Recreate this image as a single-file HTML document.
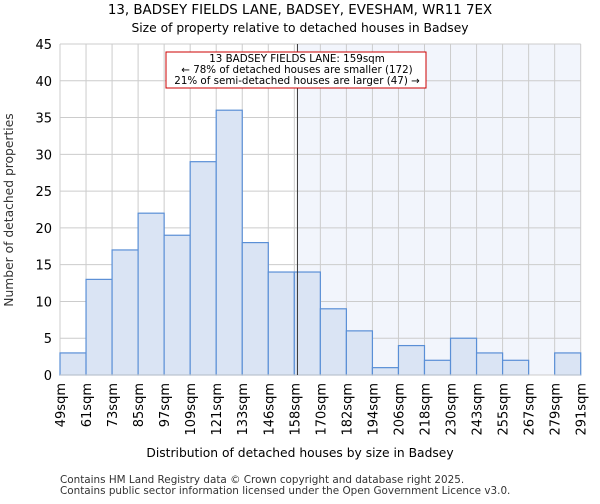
<!DOCTYPE html>
<html><head><meta charset="utf-8"><style>
body{margin:0;background:#fff;font-family:"DejaVu Sans","Liberation Sans",sans-serif;}
</style></head><body>
<svg width="600" height="500" xmlns="http://www.w3.org/2000/svg" style="font-family:'DejaVu Sans','Liberation Sans',sans-serif">
<text x="300" y="14" text-anchor="middle" font-size="13.4">13, BADSEY FIELDS LANE, BADSEY, EVESHAM, WR11 7EX</text>
<text x="300" y="32" text-anchor="middle" font-size="12.3">Size of property relative to detached houses in Badsey</text>
<g id="plot"></g>
<text x="300" y="457" text-anchor="middle" font-size="12.3">Distribution of detached houses by size in Badsey</text>
<text transform="translate(13,210) rotate(-90)" text-anchor="middle" font-size="12.3" fill="#333">Number of detached properties</text>
<text x="60" y="483" font-size="10.4" fill="#333">Contains HM Land Registry data © Crown copyright and database right 2025.</text>
<text x="60" y="494" font-size="10.4" fill="#333">Contains public sector information licensed under the Open Government Licence v3.0.</text>
</svg>
<script>
const categories=["49sqm","61sqm","73sqm","85sqm","97sqm","109sqm","121sqm","133sqm","146sqm","158sqm","170sqm","182sqm","194sqm","206sqm","218sqm","230sqm","243sqm","255sqm","267sqm","279sqm","291sqm"];
const counts=[3,13,17,22,19,29,36,18,14,14,9,6,1,4,2,5,3,2,0,3];
const yTicks=[0,5,10,15,20,25,30,35,40,45];
const markerBin=9.12;
const NS="http://www.w3.org/2000/svg";
const L=60,R=580.7,T=44,B=375,yMax=45;
const bw=(R-L)/counts.length;
const xs=i=>L+i*bw;
const ys=v=>B-(v/yMax)*(B-T);
const g=document.getElementById('plot');
function mk(t,a){const e=document.createElementNS(NS,t);for(const k in a)e.setAttribute(k,a[k]);g.appendChild(e);return e;}
const mx=xs(markerBin);
let e=mk('rect',{x:mx,y:T,width:R-mx,height:B-T,fill:'#f2f5fc'});


yTicks.forEach(v=>{
 let l=mk('line',{x1:L,x2:R,y1:ys(v),y2:ys(v),stroke:'#ccc'});
 
 
 let t=mk('text',{x:L-8,y:ys(v)+5,'text-anchor':'end','font-size':13});
 t.textContent=v;
 
 
});
categories.forEach((c,i)=>{
 let l=mk('line',{x1:xs(i),x2:xs(i),y1:T,y2:B,stroke:'#ccc'});
 
 
 let t=mk('text',{transform:`translate(${xs(i)+5},383) rotate(-90)`,'text-anchor':'end','font-size':13});
 t.textContent=c;
 
 
});
counts.forEach((v,i)=>{
 if(v<=0)return;
 let r=mk('rect',{x:xs(i),y:ys(v),width:bw,height:B-ys(v),fill:'#dae4f4',stroke:'#5a8fd6','stroke-width':1.2});
 
 
});
let ax=mk('line',{x1:L,x2:R,y1:B,y2:B,stroke:'#ccc'});


let ml=mk('line',{x1:mx,x2:mx,y1:T,y2:B,stroke:'#333','stroke-width':1});


let box=mk('rect',{x:166,y:52,width:260,height:36,fill:'#fff',stroke:'#c00','stroke-width':1});


["13 BADSEY FIELDS LANE: 159sqm","← 78% of detached houses are smaller (172)","21% of semi-detached houses are larger (47) →"].forEach((s,i)=>{
 let t=mk('text',{x:297,y:62+i*11,'text-anchor':'middle','font-size':10.3});
 t.textContent=s;
 
 
});
</script>
</body></html>
